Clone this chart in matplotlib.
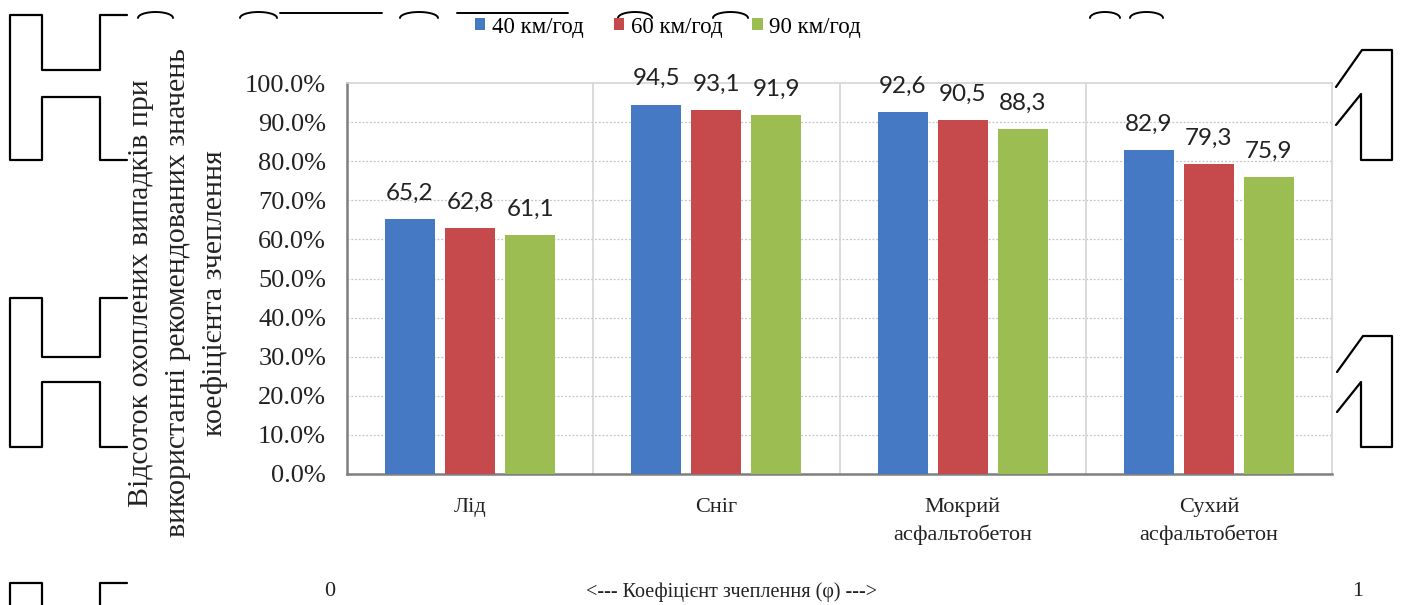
import numpy as np
import matplotlib.pyplot as plt
from matplotlib.lines import Line2D

# ---- data ----
surfaces = ["Лід", "Сніг", "Мокрий\nасфальтобетон", "Сухий\nасфальтобетон"]
speeds = ["40 км/год", "60 км/год", "90 км/год"]
v40 = [65.2, 94.5, 92.6, 82.9]
v60 = [62.8, 93.1, 90.5, 79.3]
v90 = [61.1, 91.9, 88.3, 75.9]
y_ticks = [0, 10, 20, 30, 40, 50, 60, 70, 80, 90, 100]

colors = ["#4679C3", "#C64A4B", "#9CBD52"]
serif = "Liberation Serif"
sans = "Lato"

W, H = 1403, 605
fig = plt.figure(figsize=(W / 100, H / 100), dpi=100)
ax = fig.add_axes([347 / W, 1 - 474 / H, (1332 - 347) / W, (474 - 83) / H])

x = np.arange(len(surfaces))
bw = 0.203
step = 0.244
bars = []
for i, (vals, c) in enumerate(zip([v40, v60, v90], colors)):
    b = ax.bar(x + (i - 1) * step, vals, width=bw, color=c, zorder=3)
    bars.append(b)
    for rect, v in zip(b, vals):
        ax.annotate(f"{v:.1f}".replace(".", ","),
                    (rect.get_x() + rect.get_width() / 2, v),
                    xytext=(0, 11), textcoords="offset points",
                    ha="center", va="bottom", fontsize=17.5,
                    family=sans, color="#222222", zorder=4)

ax.set_xlim(-0.5, len(surfaces) - 0.5)
ax.set_ylim(0, 100)
ax.set_yticks(y_ticks)
ax.set_yticklabels([f"{t:.1f}%" for t in y_ticks], family=serif, fontsize=19)
ax.set_xticks(x)
ax.set_xticklabels(surfaces, family=serif, fontsize=16, linespacing=1.45)
ax.tick_params(axis="both", length=0, colors="#222222")
ax.tick_params(axis="y", pad=15)
ax.tick_params(axis="x", pad=17)

# gridlines and borders
for t in y_ticks[1:-1]:
    ax.axhline(t, color="#c4c4c4", lw=0.9, ls=(0, (1.5, 1.5)), zorder=1)
for b in [0.5, 1.5, 2.5]:
    ax.axvline(b, color="#d4d4d4", lw=1.2, zorder=1)
for s in ["top", "right"]:
    ax.spines[s].set_color("#d4d4d4")
    ax.spines[s].set_linewidth(1.2)
for s in ["left", "bottom"]:
    ax.spines[s].set_color("#7f7f7f")
    ax.spines[s].set_linewidth(1.8)

# y axis title, three lines
ylab = ["Відсоток охоплених випадків при",
        "використанні рекомендованих значень",
        "коефіцієнта зчеплення"]
for xp, txt in zip([141, 178, 215], ylab):
    fig.text(xp / W, 1 - 293 / H, txt, rotation=90, ha="center", va="center",
             family=serif, fontsize=21.5, color="#222222")

# legend
fig.legend([b[0] for b in bars], speeds, loc="center",
           bbox_to_anchor=(668 / W, 1 - 27 / H), ncol=3, frameon=False,
           prop={"family": serif, "size": 16.5}, handlelength=0.45,
           handleheight=0.45, handletextpad=0.3, columnspacing=1.3)

# friction scale under the chart
fig.text(330 / W, 1 - 592 / H, "0", ha="center", va="center",
         family=serif, fontsize=16, color="#222222")
fig.text(732 / W, 1 - 592 / H, "<--- Коефіцієнт зчеплення (φ) --->",
         ha="center", va="center", family=serif, fontsize=14.5, color="#222222")
fig.text(1358 / W, 1 - 592 / H, "1", ha="center", va="center",
         family=serif, fontsize=16, color="#222222")


# outline shapes around the figure edges (pixel coordinates)
def outline(pts, lw=1.6):
    px = [p[0] / W for p in pts]
    py = [1 - p[1] / H for p in pts]
    fig.add_artist(Line2D(px, py, color="black", lw=lw,
                          solid_joinstyle="round", solid_capstyle="round"))


def arc(x0, x1, yb, hgt=6):
    t = np.linspace(0, np.pi, 20)
    xs = (x0 + x1) / 2 - (x1 - x0) / 2 * np.cos(t)
    ys = yb - hgt * np.sin(t)
    outline(list(zip(xs, ys)), lw=1.4)


for top, cb1, cb2, bot in [(15, 70, 97, 160), (298, 357, 382, 447)]:
    outline([(127, top), (100, top), (100, cb1), (42, cb1), (42, top), (10, top),
             (10, bot), (42, bot), (42, cb2), (100, cb2), (100, bot), (127, bot)])
outline([(10, 606), (10, 583), (42, 583), (42, 606)])
outline([(100, 606), (100, 583), (127, 583)])

outline([(1336, 87), (1362, 50), (1392, 50), (1392, 160), (1361, 160),
         (1361, 94), (1336, 125)])
outline([(1337, 372), (1363, 336), (1392, 336), (1392, 447), (1361, 447),
         (1361, 382), (1337, 412)])

for x0, x1 in [(138, 173), (240, 277), (400, 438), (618, 652), (713, 748),
               (1090, 1120), (1130, 1163)]:
    arc(x0, x1, 18)
outline([(280, 13), (382, 13)], lw=1.4)
outline([(457, 13), (568, 13)], lw=1.4)

fig.savefig("out.png", dpi=100, facecolor="white")
